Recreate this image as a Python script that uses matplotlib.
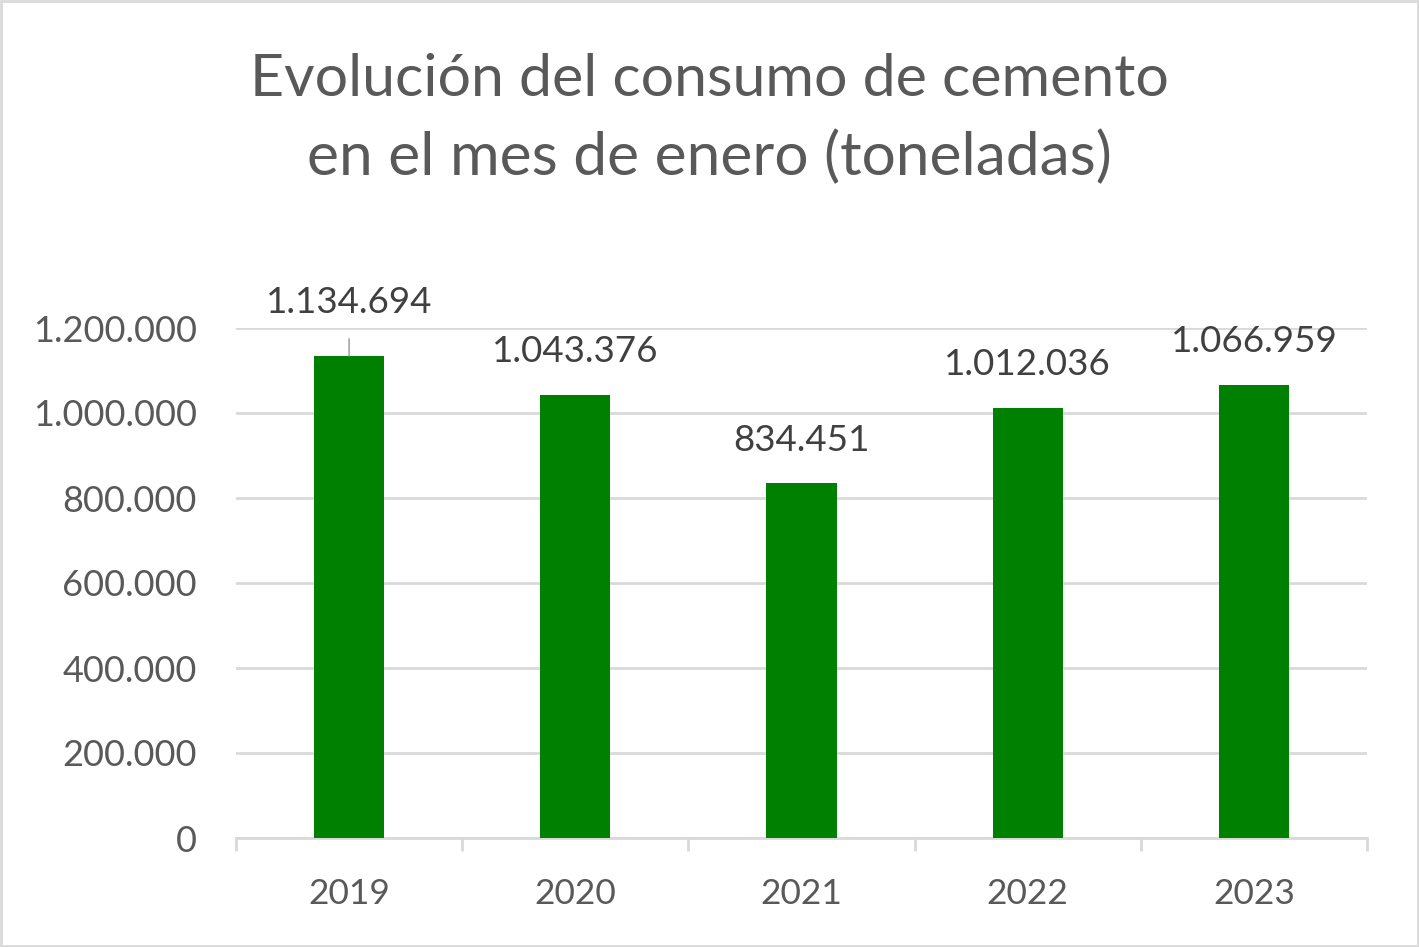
import matplotlib.pyplot as plt
from matplotlib.ticker import FuncFormatter, FixedLocator
from matplotlib.patches import Rectangle

years = ["2019", "2020", "2021", "2022", "2023"]
consumo = [1134694, 1043376, 834451, 1012036, 1066959]
y_ticks = [0, 200000, 400000, 600000, 800000, 1000000, 1200000]

plt.rcParams['font.family'] = ['Lato', 'DejaVu Sans']
gris = "#595959"
linea = "#d9d9d9"
verde = "#008000"


def miles(v, pos=None):
    return f"{int(v):,}".replace(",", ".")


fig = plt.figure(figsize=(14.19, 9.47), dpi=100)
fig.patches.append(Rectangle((0.001, 0.001), 0.998, 0.998, transform=fig.transFigure,
                             fill=False, edgecolor=linea, linewidth=2))

ax = fig.add_axes([236/1419, 1-838/947, (1367-236)/1419, (838-328)/947])
x = list(range(len(years)))
ax.bar(x, consumo, width=0.31, color=verde, zorder=3)

ax.set_xlim(-0.5, len(years)-0.5)
ax.set_ylim(0, 1200000)
ax.yaxis.set_major_locator(FixedLocator(y_ticks))
ax.yaxis.set_major_formatter(FuncFormatter(miles))
ax.grid(axis='y', color=linea, linewidth=2, zorder=0)
for s in ['top', 'right', 'left']:
    ax.spines[s].set_visible(False)
ax.spines['bottom'].set_color(linea)
ax.spines['bottom'].set_linewidth(2)

ax.set_xticks(x)
ax.set_xticklabels(years)
ax.set_xticks([i - 0.5 for i in range(len(years)+1)], minor=True)
ax.tick_params(axis='x', which='major', length=0, pad=29, labelsize=25.5, labelcolor=gris)
ax.tick_params(axis='x', which='minor', length=9.5, width=2, color=linea)
ax.tick_params(axis='y', length=0, pad=28, labelsize=26, labelcolor=gris)

for i, v in enumerate(consumo):
    if i == 0:
        ax.annotate(miles(v), xy=(i, v), xytext=(0, 38), textcoords='offset points',
                    ha='center', va='center', fontsize=26.5, color="#404040",
                    arrowprops=dict(arrowstyle='-', color="#a6a6a6", lw=1.2,
                                    shrinkA=12, shrinkB=0))
    else:
        ax.annotate(miles(v), xy=(i, v), xytext=(0, 31), textcoords='offset points',
                    ha='center', va='center', fontsize=26.5, color="#404040")

fig.text(0.5, 1-80/947, "Evolución del consumo de cemento", ha='center', va='center',
         fontsize=42.6, color=gris)
fig.text(0.5, 1-157/947, "en el mes de enero (toneladas)", ha='center', va='center',
         fontsize=43.5, color=gris)

fig.savefig("out.png", dpi=100)
